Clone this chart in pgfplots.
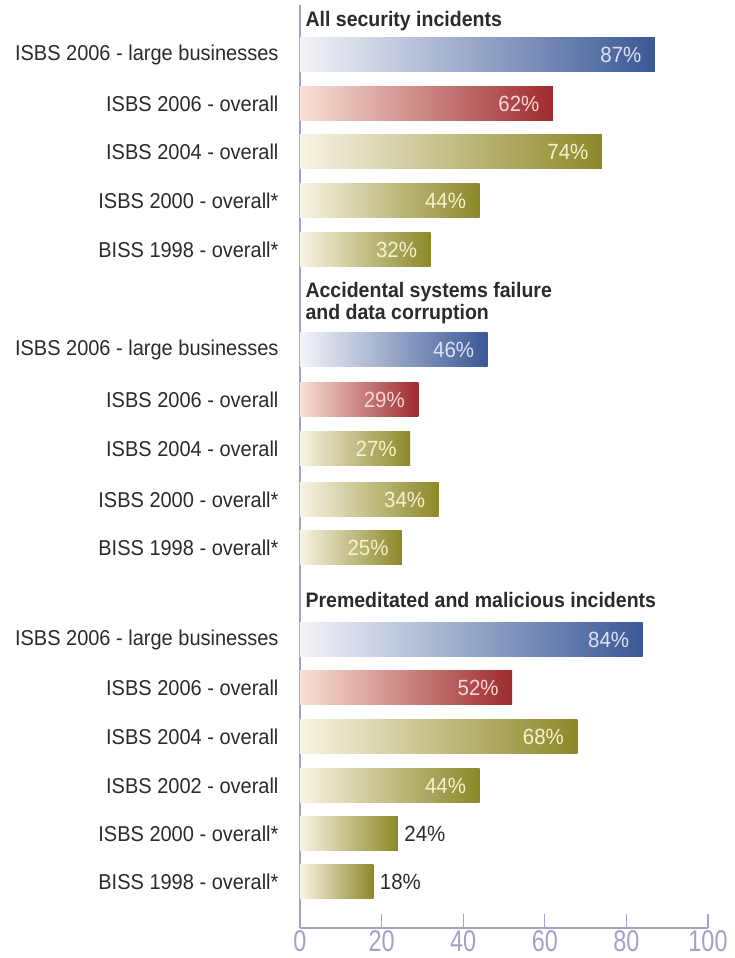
\documentclass[border=0pt]{standalone}
\usepackage{fontspec}
\setmainfont[FakeStretch=0.93]{Liberation Sans}
\newfontfamily\tickfont[FakeStretch=0.78]{Liberation Sans}
\usepackage{pgfplots}
\pgfplotsset{compat=1.18}
\definecolor{txt}{HTML}{2B2B2B}
\definecolor{axc}{HTML}{A2A2C6}
\definecolor{blueR}{HTML}{3A5896}
\definecolor{blueL}{HTML}{F4F4F8}
\definecolor{redR}{HTML}{9E2A2E}
\definecolor{redL}{HTML}{F8E0D6}
\definecolor{oliveR}{HTML}{8C8828}
\definecolor{oliveL}{HTML}{F8F4E4}
\definecolor{blueT}{HTML}{DDE2F2}
\definecolor{redT}{HTML}{FAD6D0}
\definecolor{oliveT}{HTML}{F6F2CC}
\pgfplotsset{
 inb/.style={xbar, draw=none, left color=#1L, right color=#1R,
   every node near coord/.append style={anchor=east, text=#1T, xshift=-10pt}},
 outb/.style={xbar, draw=none, left color=#1L, right color=#1R,
   every node near coord/.append style={anchor=west, text=txt, xshift=3pt}},
}
\begin{document}
\begin{tikzpicture}
\useasboundingbox (-300pt,-30pt) rectangle (435pt,928pt);
\begin{axis}[
 at={(0,0)}, anchor=south west,
 scale only axis, width=408pt, height=923pt,
 xmin=0, xmax=100, ymin=0, ymax=923,
 axis x line=bottom, axis y line=left,
 axis line style={axc, line width=1.2pt, -},
 xtick={0,20,40,60,80,100}, xticklabels={0,20,40,60,80,100},
 tick align=inside, major tick length=14pt,
 xtick style={axc, line width=1.2pt},
 xticklabel style={font=\tickfont\fontsize{30}{30}\selectfont, text=axc, inner sep=0pt, anchor=north, yshift=-2pt},
 ytick={46.5,94.5,142.5,191.5,240,288.5,380,428.5,479.5,528,578,678,727,776,824.5,873},
 yticklabels={BISS 1998 - overall*,ISBS 2000 - overall*,ISBS 2002 - overall,ISBS 2004 - overall,ISBS 2006 - overall,ISBS 2006 - large businesses,BISS 1998 - overall*,ISBS 2000 - overall*,ISBS 2004 - overall,ISBS 2006 - overall,ISBS 2006 - large businesses,BISS 1998 - overall*,ISBS 2000 - overall*,ISBS 2004 - overall,ISBS 2006 - overall,ISBS 2006 - large businesses},
 ytick style={draw=none},
 yticklabel style={font=\fontsize{21.5}{22}\selectfont, text=txt, xshift=-18pt},
 bar width=34, bar shift=0pt,
 point meta=x,
 /pgf/number format/assume math mode=true,
 nodes near coords={\pgfmathprintnumber{\pgfplotspointmeta}\%},
 every node near coord/.append style={font=\fontsize{22}{22}\selectfont},
 clip=false,
]
% All security incidents
\addplot[inb=blue]  coordinates {(87,873)};
\addplot[inb=red]   coordinates {(62,824.5)};
\addplot[inb=olive] coordinates {(74,776)};
\addplot[inb=olive] coordinates {(44,727)};
\addplot[inb=olive] coordinates {(32,678)};
% Accidental systems failure
\addplot[inb=blue]  coordinates {(46,578)};
\addplot[inb=red]   coordinates {(29,528)};
\addplot[inb=olive] coordinates {(27,479.5)};
\addplot[inb=olive] coordinates {(34,428.5)};
\addplot[inb=olive] coordinates {(25,380)};
% Premeditated and malicious incidents
\addplot[inb=blue]  coordinates {(84,288.5)};
\addplot[inb=red]   coordinates {(52,240)};
\addplot[inb=olive] coordinates {(68,191.5)};
\addplot[inb=olive] coordinates {(44,142.5)};
\addplot[outb=olive] coordinates {(24,94.5)};
\addplot[outb=olive] coordinates {(18,46.5)};
\node[anchor=base west, font=\bfseries\fontsize{21}{21}\selectfont, text=txt, xshift=2pt] at (axis cs:0,901) {All security incidents};
\node[anchor=base west, font=\bfseries\fontsize{21}{21}\selectfont, text=txt, xshift=2pt] at (axis cs:0,630) {Accidental systems failure};
\node[anchor=base west, font=\bfseries\fontsize{21}{21}\selectfont, text=txt, xshift=2pt] at (axis cs:0,608) {and data corruption};
\node[anchor=base west, font=\bfseries\fontsize{21}{21}\selectfont, text=txt, xshift=2pt] at (axis cs:0,320) {Premeditated and malicious incidents};
\end{axis}
\end{tikzpicture}
\end{document}
